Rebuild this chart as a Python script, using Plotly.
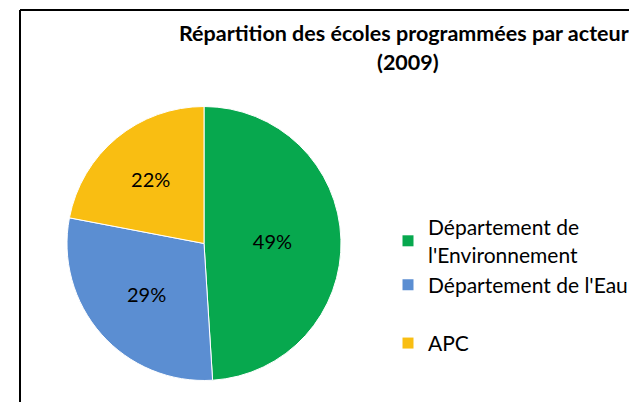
import plotly.graph_objects as go

labels = ["Département de<br>l'Environnement", "Département de l'Eau", "APC"]
values = [49, 29, 22]
colors = ["#07A84E", "#5B8ED2", "#F9BE12"]
legend_groups = ["a", "a", "b"]
title_lines = ["Répartition des écoles programmées par acteurs", "(2009)"]

# Page has an 8px body margin; keep figure inside the 637x402 window
OFF = 8
W, H = 637 - OFF, 402 - OFF
FONT = "Lato, Open Sans, sans-serif"


def fx(x):
    return (x - OFF) / W


def fy(y):
    return 1 - (y - OFF) / H


fig = go.Figure()
fig.add_trace(go.Pie(
    labels=labels, values=values, sort=False, direction="clockwise", rotation=0,
    marker=dict(colors=colors, line=dict(color="white", width=1)),
    textinfo="percent", texttemplate="%{percent:.0%}", textposition="inside",
    insidetextfont=dict(color="black", size=20, family=FONT),
    domain=dict(x=[fx(67), fx(341)], y=[fy(381), fy(106)]),
    hoverinfo="label+percent", showlegend=False,
))

for lab, col, grp in zip(labels, colors, legend_groups):
    fig.add_trace(go.Scatter(
        x=[None], y=[None], mode="markers", name=lab, legendgroup=grp,
        marker=dict(symbol="square", size=11, color=col),
        showlegend=True, hoverinfo="skip",
    ))

fig.update_layout(
    width=W, height=H, margin=dict(l=0, r=0, t=0, b=0),
    paper_bgcolor="white", plot_bgcolor="white",
    font=dict(family=FONT, color="black"),
    xaxis=dict(visible=False), yaxis=dict(visible=False),
    showlegend=True,
    legend=dict(x=fx(388), y=fy(207), xanchor="left", yanchor="top",
                font=dict(size=21, family=FONT), itemsizing="trace",
                tracegroupgap=28, bgcolor="rgba(0,0,0,0)"),
    shapes=[
        dict(type="line", xref="paper", yref="paper", x0=fx(20), x1=fx(20), y0=-0.05, y1=fy(10),
             line=dict(color="black", width=2)),
        dict(type="line", xref="paper", yref="paper", x0=fx(20), x1=1.05, y0=fy(10), y1=fy(10),
             line=dict(color="black", width=2)),
    ],
    annotations=[
        dict(text="<b>" + title_lines[0] + "</b>", x=fx(408), y=fy(33), xref="paper", yref="paper",
             xanchor="center", yanchor="middle", showarrow=False, font=dict(size=21.5, family=FONT)),
        dict(text="<b>" + title_lines[1] + "</b>", x=fx(408), y=fy(62), xref="paper", yref="paper",
             xanchor="center", yanchor="middle", showarrow=False, font=dict(size=21.5, family=FONT)),
    ],
)

fig.write_html("out.html")
